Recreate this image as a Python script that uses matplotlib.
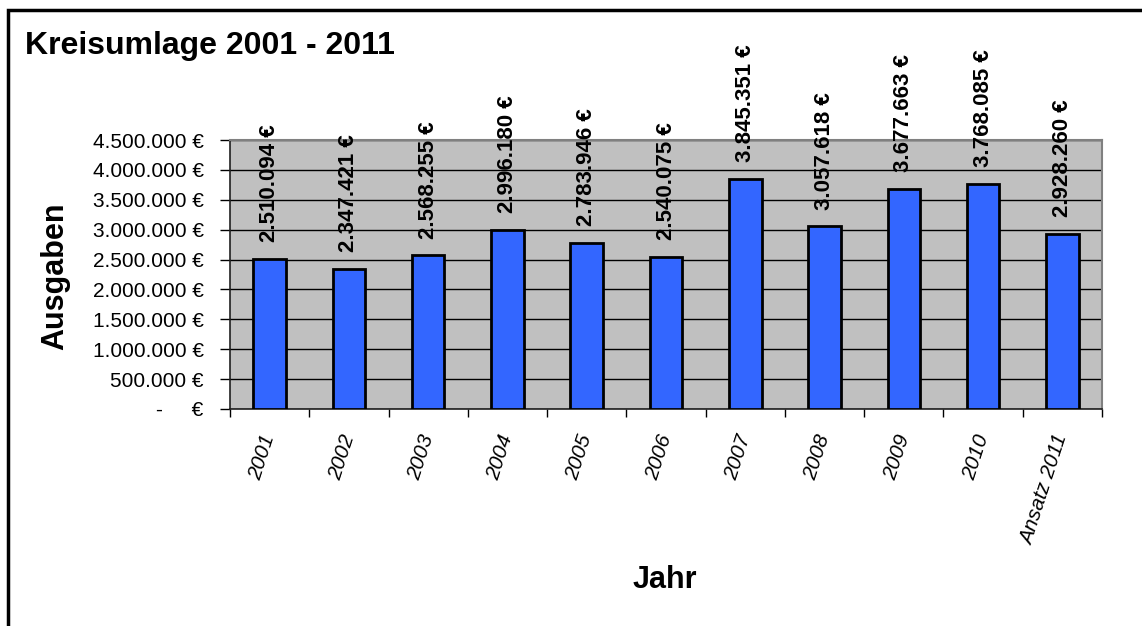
import numpy as np
import matplotlib
matplotlib.use('Agg')
import matplotlib.pyplot as plt
from matplotlib.ticker import FuncFormatter, MultipleLocator

years = ['2001', '2002', '2003', '2004', '2005', '2006', '2007', '2008',
         '2009', '2010', 'Ansatz 2011']
ausgaben = [2510094, 2347421, 2568255, 2996180, 2783946, 2540075, 3845351,
            3057618, 3677663, 3768085, 2928260]

plt.rcParams['font.family'] = ['Liberation Sans', 'DejaVu Sans']


def euro(v):
    if v == 0:
        return '-     €'
    return '{:,.0f} €'.format(v).replace(',', '.')


fig = plt.figure(figsize=(11.42, 6.26), dpi=100)
ax = fig.add_axes([230 / 1142, 1 - 409 / 626, 872 / 1142, 269 / 626])
ax.set_facecolor('#c0c0c0')

x = np.arange(len(years))
ax.bar(x, ausgaben, width=0.41, color='#3366ff', edgecolor='black',
       linewidth=2, zorder=3)

for xi, v in zip(x, ausgaben):
    ax.annotate(euro(v), xy=(xi, v), xytext=(0, 12), textcoords='offset points',
                rotation=90, ha='center', va='bottom', fontsize=16,
                fontweight='bold', annotation_clip=False)

ax.set_xlim(-0.5, len(years) - 0.5)
ax.set_ylim(0, 4500000)
ax.yaxis.set_major_locator(MultipleLocator(500000))
ax.yaxis.set_major_formatter(FuncFormatter(lambda v, p: euro(v)))
ax.grid(axis='y', color='black', linewidth=1, zorder=1)
ax.set_axisbelow(True)

ax.set_xticks(x)
ax.set_xticklabels(years, rotation=72, ha='right', va='center',
                   rotation_mode='anchor', fontsize=15, fontstyle='italic')
ax.set_xticks(np.arange(-0.5, len(years)), minor=True)
ax.tick_params(axis='x', which='major', length=0, pad=19)
ax.tick_params(axis='x', which='minor', length=6, width=1)
ax.tick_params(axis='y', length=7, width=1, labelsize=15, pad=12)

for side in ('top', 'right'):
    ax.spines[side].set_color('#808080')
    ax.spines[side].set_linewidth(1.5)
for side in ('left', 'bottom'):
    ax.spines[side].set_color('#202020')
    ax.spines[side].set_linewidth(1.2)

fig.text(25 / 1142, 1 - 31 / 626, 'Kreisumlage 2001 - 2011', fontsize=23,
         fontweight='bold', ha='left', va='top')
fig.text(55 / 1142, 1 - 276 / 626, 'Ausgaben', fontsize=22, fontweight='bold',
         rotation=90, ha='center', va='center')
fig.text(665 / 1142, 1 - 580 / 626, 'Jahr', fontsize=22, fontweight='bold',
         ha='center', va='center')

# outer chart frame (only left and top edges fall inside the canvas)
fig.add_artist(plt.Rectangle((7.5 / 1142, -0.2), 2, 1 - 10 / 626 + 0.2,
                             transform=fig.transFigure, fill=False,
                             edgecolor='black', linewidth=2.5, clip_on=False))

fig.savefig('out.png', dpi=100)
